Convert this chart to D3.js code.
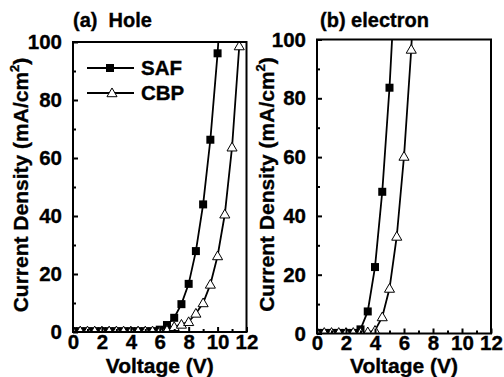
<!DOCTYPE html>
<html><head><meta charset="utf-8">
<script src="https://cdn.jsdelivr.net/npm/d3@7"></script>
<style>body{margin:0;background:#fff}svg{display:block}text{font-family:"Liberation Sans",Arial,sans-serif;font-weight:bold;fill:#000;stroke:#000;stroke-width:0.35px}</style>
</head><body><svg id="c" width="504" height="377"></svg>
<script>
// Panel (a) Hole
const holeSAF_V = [0,0.5,1,1.5,2,2.5,3,3.5,4,4.5,5,5.5,6,6.5,7,7.5,8,8.5,9,9.5,10,10.5];
const holeSAF_J = [0.3,0.3,0.3,0.3,0.3,0.3,0.3,0.3,0.3,0.3,0.3,0.3,0.8,2.4,4.9,9.6,16.6,27.9,44,66.3,96.1,135];
const holeCBP_V = [0,0.5,1,1.5,2,2.5,3,3.5,4,4.5,5,5.5,6,6.5,7,7.5,8,8.5,9,9.5,10,10.5,11,11.5,12];
const holeCBP_J = [0.3,0.3,0.3,0.3,0.3,0.3,0.3,0.3,0.3,0.3,0.3,0.3,0.3,0.6,1.8,2.6,3.5,6.4,10,16.4,26.2,40.6,63.7,98.6,150];
// Panel (b) electron
const elecSAF_V = [0,0.5,1,1.5,2,2.5,3,3.5,4,4.5,5,5.5];
const elecSAF_J = [0.2,0.2,0.2,0.2,0.2,0.2,1.4,7.5,22.6,48.2,83.6,130];
const elecCBP_V = [0,0.5,1,1.5,2,2.5,3,3.5,4,4.5,5,5.5,6,6.5,7];
const elecCBP_J = [0.3,0.3,0.3,0.3,0.3,0.3,0.3,0.5,1.0,5.6,15.3,33,60.2,96.6,150];

const xTicks = [0,2,4,6,8,10,12];
const xMinor = [1,3,5,7,9,11];
const yTicks = [0,20,40,60,80,100];
const yMinor = [10,30,50,70,90];
const titles = ["(a)  Hole","(b) electron"];
const seriesNames = ["SAF","CBP"];

const svg = d3.select("#c");

const panels = [
  {x0:73, x1:246.5, y0:42, y1:332, title:titles[0], saf:[holeSAF_V,holeSAF_J], cbp:[holeCBP_V,holeCBP_J], legend:true, ytx:28},
  {x0:317, x1:491, y0:39.5, y1:333.5, title:titles[1], saf:[elecSAF_V,elecSAF_J], cbp:[elecCBP_V,elecCBP_J], legend:false, ytx:274}
];

const triPath = d3.symbol().type(d3.symbolTriangle).size(44);

panels.forEach((p,i)=>{
  const x = d3.scaleLinear().domain([0,12]).range([p.x0,p.x1]);
  const y = d3.scaleLinear().domain([0,100]).range([p.y1,p.y0]);
  const g = svg.append("g");
  const cid = "clip"+i;
  svg.append("clipPath").attr("id",cid).append("rect")
    .attr("x",p.x0).attr("y",p.y0).attr("width",p.x1-p.x0).attr("height",p.y1-p.y0);
  const data = g.append("g").attr("clip-path",`url(#${cid})`);
  const line = d3.line().x(d=>x(d[0])).y(d=>y(d[1]));
  const saf = p.saf[0].map((v,k)=>[v,p.saf[1][k]]);
  const cbp = p.cbp[0].map((v,k)=>[v,p.cbp[1][k]]);
  data.append("path").datum(saf).attr("d",line).attr("fill","none").attr("stroke","#000").attr("stroke-width",1.8);
  data.append("path").datum(cbp).attr("d",line).attr("fill","none").attr("stroke","#000").attr("stroke-width",1.8);
  data.selectAll(".sq").data(saf).enter().append("rect")
    .attr("x",d=>x(d[0])-4).attr("y",d=>y(d[1])-4).attr("width",8).attr("height",8).attr("fill","#000");
  data.selectAll(".tr").data(cbp).enter().append("path")
    .attr("d",triPath).attr("transform",d=>`translate(${x(d[0])},${y(d[1])+0.8})`)
    .attr("fill","#fff").attr("stroke","#000").attr("stroke-width",1);

  // frame
  g.append("rect").attr("x",p.x0).attr("y",p.y0).attr("width",p.x1-p.x0).attr("height",p.y1-p.y0)
    .attr("fill","none").attr("stroke","#000").attr("stroke-width",2);

  // axes (ticks inward)
  const xa = g.append("g").attr("transform",`translate(0,${p.y1})`)
    .call(d3.axisBottom(x).tickValues(xTicks).tickSizeInner(-5).tickSizeOuter(0).tickPadding(10).tickFormat(d3.format("d")));
  xa.select(".domain").remove();
  xa.selectAll("line").attr("stroke-width",2);
  xa.selectAll("text").attr("font-size",20.5).attr("dy","0.75em").attr("y",1.5);
  g.append("g").attr("transform",`translate(0,${p.y1})`)
    .call(d3.axisBottom(x).tickValues(xMinor).tickSizeInner(-3).tickSizeOuter(0).tickFormat(""))
    .call(a=>{a.select(".domain").remove();a.selectAll("line").attr("stroke-width",2);});
  const ya = g.append("g").attr("transform",`translate(${p.x0},0)`)
    .call(d3.axisLeft(y).tickValues(yTicks).tickSizeInner(-5).tickSizeOuter(0).tickPadding(11).tickFormat(d3.format("d")));
  ya.select(".domain").remove();
  ya.selectAll("line").attr("stroke-width",2);
  ya.selectAll("text").attr("font-size",20.5);
  g.append("g").attr("transform",`translate(${p.x0},0)`)
    .call(d3.axisLeft(y).tickValues(yMinor).tickSizeInner(-3).tickSizeOuter(0).tickFormat(""))
    .call(a=>{a.select(".domain").remove();a.selectAll("line").attr("stroke-width",2);});

  // titles
  g.append("text").attr("x",p.x0+(i===0?0:3)).attr("y",27).attr("font-size",20).attr("xml:space","preserve").text(p.title);
  g.append("text").attr("x",(p.x0+p.x1)/2).attr("y",373).attr("text-anchor","middle").attr("font-size",21).text("Voltage (V)");
  const yt = g.append("text").attr("transform",`translate(${p.ytx},${(p.y0+p.y1)/2 - 2}) rotate(-90)`)
    .attr("text-anchor","middle").attr("font-size",21);
  yt.append("tspan").text("Current Density (mA/cm");
  yt.append("tspan").attr("font-size",13).attr("dy",-9).text("2");
  yt.append("tspan").attr("dy",9).text(")");

  if(p.legend){
    const items = [{y:68, type:"sq", name:seriesNames[0]},{y:93, type:"tr", name:seriesNames[1]}];
    items.forEach(it=>{
      g.append("line").attr("x1",87).attr("x2",134).attr("y1",it.y).attr("y2",it.y).attr("stroke","#000").attr("stroke-width",1.8);
      if(it.type==="sq") g.append("rect").attr("x",106).attr("y",it.y-4).attr("width",8).attr("height",8).attr("fill","#000");
      else g.append("path").attr("d",triPath).attr("transform",`translate(112,${it.y+0.8})`).attr("fill","#fff").attr("stroke","#000");
      g.append("text").attr("x",141).attr("y",it.y+7).attr("font-size",20.5).text(it.name);
    });
  }
});
</script></body></html>
